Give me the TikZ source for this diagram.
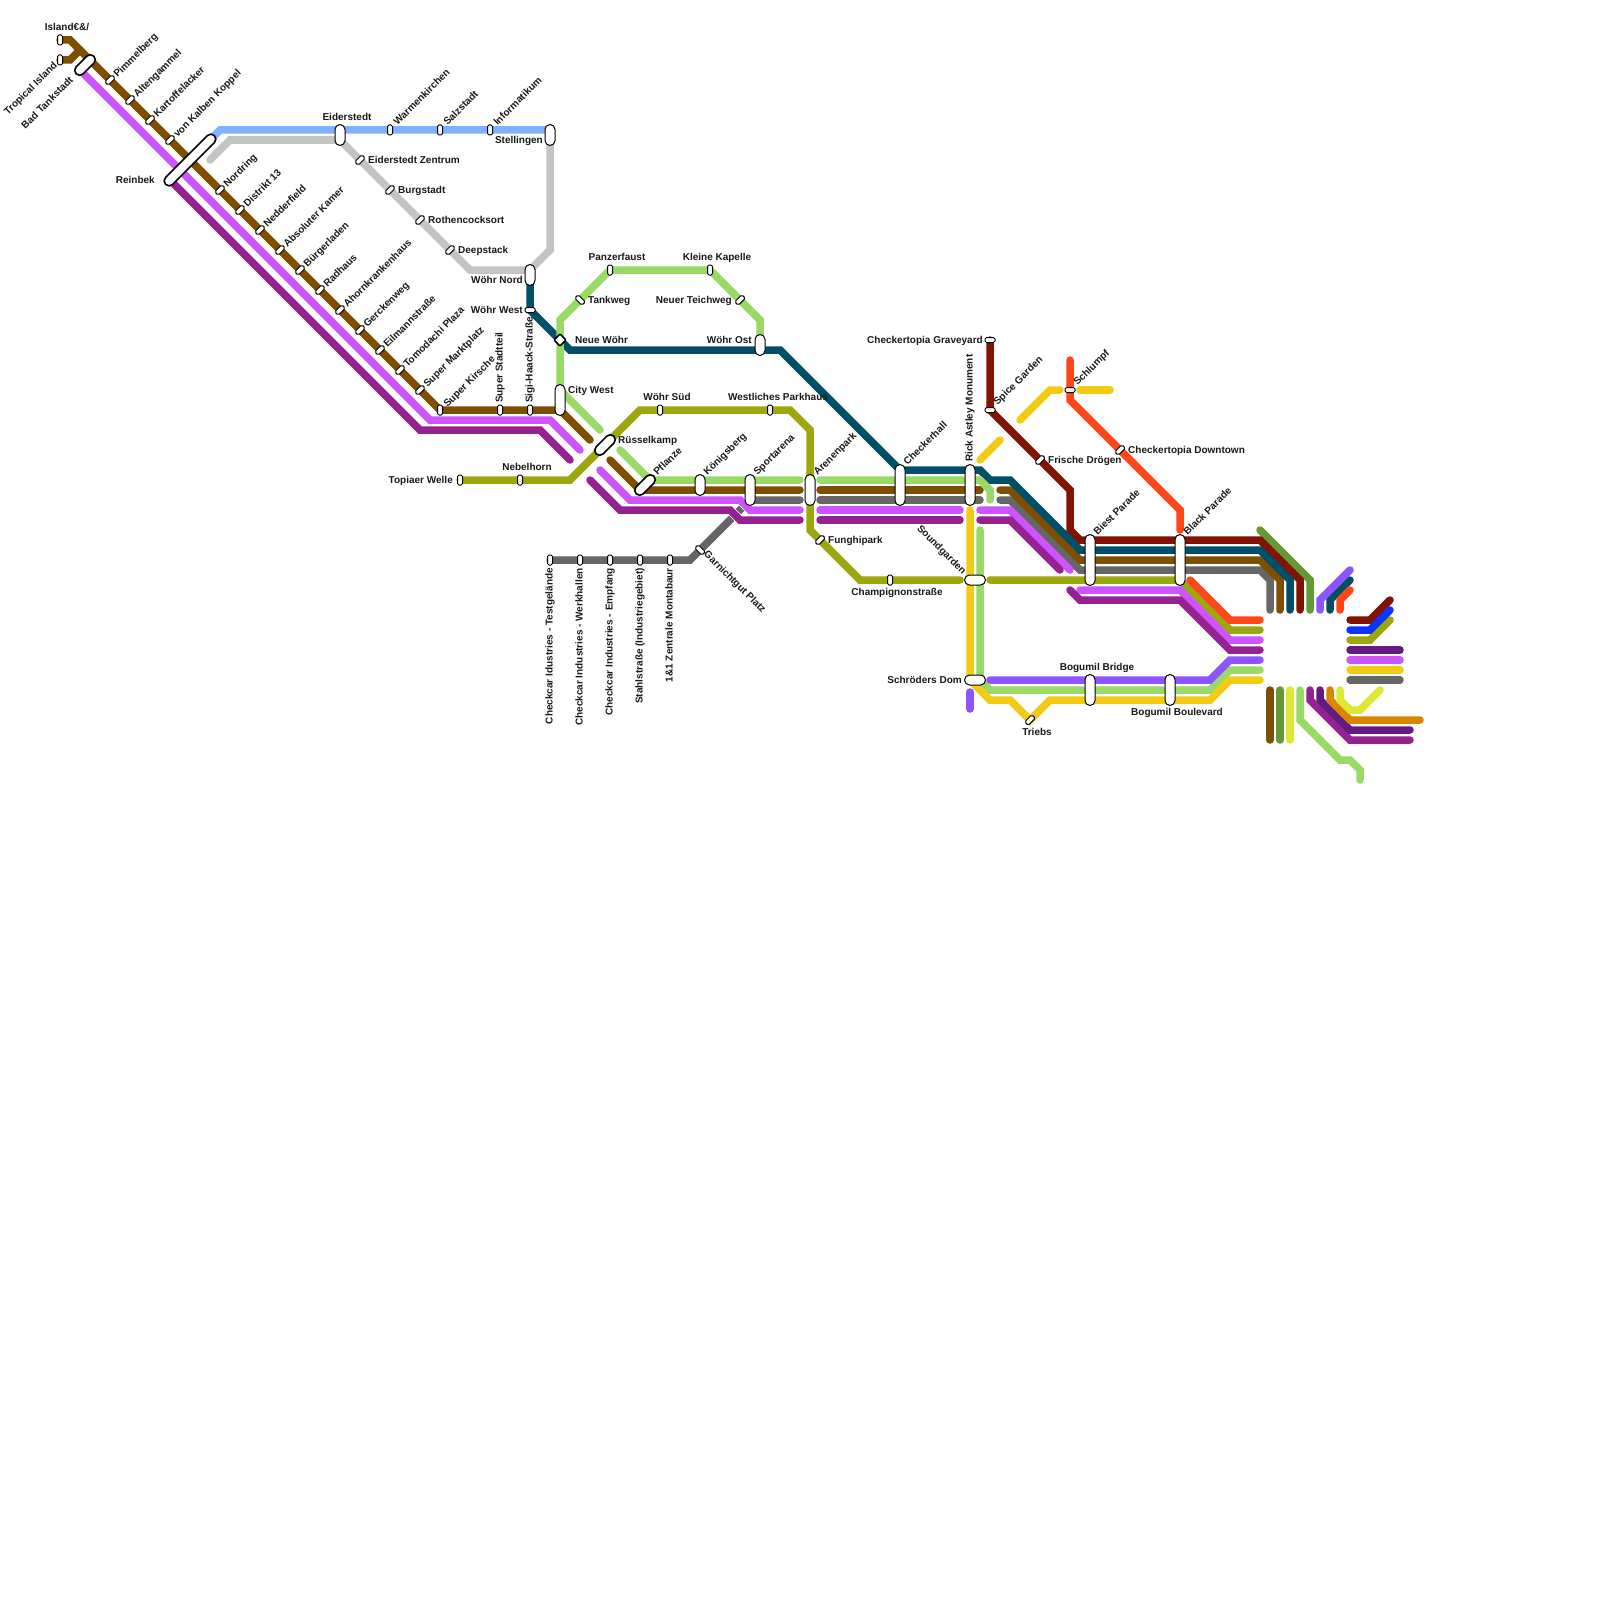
\documentclass[tikz,border=0pt]{standalone}
\usepackage{fontspec}
\setmainfont{Liberation Sans}
\definecolor{cbrown}{HTML}{7F4F00}
\definecolor{cblue}{HTML}{80B0FF}
\definecolor{clgrey}{HTML}{C4C4C4}
\definecolor{cteal}{HTML}{004F66}
\definecolor{clgreen}{HTML}{99D966}
\definecolor{colive}{HTML}{9CA60D}
\definecolor{cmag}{HTML}{CC55FF}
\definecolor{cpurp}{HTML}{962190}
\definecolor{cdgrey}{HTML}{666666}
\definecolor{cdred}{HTML}{801400}
\definecolor{cred}{HTML}{FF4619}
\definecolor{cyel}{HTML}{F2CC14}
\definecolor{cviol}{HTML}{8C55FF}
\definecolor{cdblue}{HTML}{0D33FF}
\definecolor{cdpurp}{HTML}{661A80}
\definecolor{corange}{HTML}{D98500}
\definecolor{cgreen}{HTML}{669933}
\definecolor{clime}{HTML}{DDE833}
\tikzset{
  ln/.style={line width=7.5pt,line cap=round,line join=miter,#1},
  halo/.style={line width=9pt,white},
  caps/.style={draw=black,fill=white,line width=1pt,rounded corners=5pt,minimum height=10pt,inner sep=0pt},
  capsb/.style={caps,line width=1.6pt},
  smallst/.style={draw=black,fill=white,line width=1pt,rounded corners=1.5pt,minimum width=10pt,minimum height=5pt,inner sep=0pt},
  lbl/.style={font=\bfseries\fontsize{10}{12}\selectfont,inner sep=0pt,text height=8.5pt,text depth=0.5pt,text=black!90},
  lblv/.style={font=\bfseries\fontsize{10}{12}\selectfont,inner sep=0pt,text height=7pt,text depth=2pt,text=black!90}
}
\newcommand{\mstn}[4]{\node[smallst,rotate=#4] (#1) at (#2,#3) {};}
\newcommand{\mcps}[5]{\node[caps,minimum width=#5pt,rotate=#4] (#1) at (#2,#3) {};}
\newcommand{\mcpb}[5]{\node[capsb,minimum width=#5pt,rotate=#4] (#1) at (#2,#3) {};}
\newcommand{\lba}[4]{\node[lbl,anchor=west,rotate=45,xshift=1pt] (#1) at (#2,#3) {#4};}
\newcommand{\lbw}[4]{\node[lbl,anchor=west] (#1) at (#2,#3) {#4};}
\newcommand{\lbe}[4]{\node[lbl,anchor=east] (#1) at (#2,#3) {#4};}
\newcommand{\lbc}[4]{\node[lbl,anchor=center] (#1) at (#2,#3) {#4};}
\newcommand{\lbv}[4]{\node[lblv,anchor=west,rotate=90] (#1) at (#2,#3) {#4};}
\newcommand{\lbd}[4]{\node[lblv,anchor=east,rotate=90] (#1) at (#2,#3) {#4};}
\begin{document}
\begin{tikzpicture}[x=1pt,y=-1pt]
\path[fill=white] (0,0) rectangle (1600,1600);
\useasboundingbox (0,0) rectangle (1600,1600);
% light grey
\draw[ln=clgrey] (210,160)--(230,140)--(340,140)--(470,270)--(530,270)--(550,250)--(550,135);
% light blue
\draw[ln=cblue] (210,140)--(220,130)--(550,130);
% dark grey
\draw[ln=cdgrey] (550,560)--(690,560)--(750,500)--(800,500);
\draw[ln=cdgrey] (820,500)--(980,500);
\draw[ln=cdgrey] (1000,500)--(1010,500)--(1080,570)--(1260,570)--(1270,580)--(1270,610);
% brown
\draw[ln=cbrown] (60,40)--(70,40)--(440,410)--(560,410)--(590,440);
\draw[ln=cbrown] (60,60)--(70,60)--(80,50);
\draw[ln=cbrown] (610,460)--(640,490)--(800,490);
\draw[ln=cbrown] (820,490)--(980,490);
\draw[ln=cbrown] (1000,490)--(1010,490)--(1080,560)--(1260,560)--(1280,580)--(1280,610);
\draw[ln=cbrown] (1270,690)--(1270,740);
% green far right
\draw[ln=cgreen] (1260,530)--(1310,580)--(1310,610);
\draw[ln=cgreen] (1280,690)--(1280,740);
% dark red
\draw[ln=cdred] (990,340)--(990,410)--(1070,490)--(1070,530)--(1080,540)--(1260,540)--(1300,580)--(1300,610);
\draw[ln=cdred] (1350,620)--(1370,620)--(1390,600);
% teal
\draw[ln=cteal] (530,280)--(530,310)--(570,350)--(780,350)--(900,470)--(980,470)--(990,480)--(1010,480)--(1080,550)--(1260,550)--(1290,580)--(1290,610);
\draw[ln=cteal] (1330,610)--(1330,600)--(1350,580);
% light green
\draw[ln=clgreen] (760,345)--(760,320)--(710,270)--(610,270)--(560,320)--(560,390)--(600,430);
\draw[ln=clgreen] (620,450)--(650,480)--(800,480);
\draw[ln=clgreen] (820,480)--(980,480)--(990,490)--(990,500);
\draw[ln=clgreen] (980,530)--(980,680)--(990,690)--(1210,690)--(1230,670)--(1260,670);
\draw[ln=clgreen] (1300,690)--(1300,720)--(1340,760)--(1350,760)--(1360,770)--(1360,780);
% olive
\draw[ln=colive] (460,480)--(570,480)--(640,410)--(790,410)--(810,430)--(810,530)--(860,580)--(960,580);
\draw[ln=colive] (990,580)--(1180,580)--(1230,630)--(1260,630);
\draw[ln=colive] (1350,640)--(1370,640)--(1390,620);
% magenta
\draw[ln=cmag] (80,70)--(430,420)--(550,420)--(580,450);
\draw[halo] (735,500)--(740,500)--(750,510)--(755,510);
\draw[ln=cmag] (600,470)--(630,500)--(740,500)--(750,510)--(800,510);
\draw[ln=cmag] (820,510)--(960,510);
\draw[ln=cmag] (980,510)--(1010,510)--(1070,570);
\draw[ln=cmag] (1080,590)--(1180,590)--(1230,640)--(1260,640);
\draw[ln=cmag] (1350,660)--(1400,660);
% purple
\draw[ln=cpurp] (170,180)--(420,430)--(540,430)--(570,460);
\draw[halo] (725,510)--(730,510)--(740,520)--(745,520);
\draw[ln=cpurp] (590,480)--(620,510)--(730,510)--(740,520)--(800,520);
\draw[ln=cpurp] (820,520)--(960,520);
\draw[ln=cpurp] (980,520)--(1010,520)--(1060,570);
\draw[ln=cpurp] (1070,590)--(1080,600)--(1180,600)--(1230,650)--(1260,650);
\draw[ln=cpurp] (1310,690)--(1310,700)--(1350,740)--(1410,740);
% yellow
\draw[ln=cyel] (970,510)--(970,680)--(990,700)--(1010,700)--(1030,720)--(1050,700)--(1210,700)--(1230,680)--(1260,680);
\draw[ln=cyel] (980,460)--(1000,440);
\draw[ln=cyel] (1020,420)--(1050,390)--(1060,390);
\draw[ln=cyel] (1080,390)--(1110,390);
\draw[ln=cyel] (1350,670)--(1400,670);
% red orange
\draw[ln=cred] (1070,360)--(1070,400)--(1180,510)--(1180,530);
\draw[ln=cred] (1190,580)--(1230,620)--(1260,620);
\draw[ln=cred] (1340,610)--(1340,600)--(1350,590);
% violet
\draw[ln=cviol] (990,680)--(1210,680)--(1230,660)--(1260,660);
\draw[ln=cviol] (970,692)--(970,709);
\draw[ln=cviol] (1320,610)--(1320,600)--(1350,570);
% other right block
\draw[ln=cdblue] (1350,630)--(1370,630)--(1390,610);
\draw[ln=cdpurp] (1350,650)--(1400,650);
\draw[ln=cdgrey] (1350,680)--(1400,680);
\draw[ln=clime] (1290,690)--(1290,740);
\draw[ln=cdpurp] (1320,690)--(1320,700)--(1350,730)--(1410,730);
\draw[ln=corange] (1330,690)--(1330,700)--(1350,720)--(1420,720);
\draw[ln=clime] (1340,690)--(1340,700)--(1350,710)--(1360,710)--(1380,690);
% stations
\mstn{sIsland}{60}{40}{90}\mstn{sTropical}{60}{60}{90}
\mcpb{sBad}{85}{65}{45}{25}
\foreach \n/\x in {a/110,b/130,c/150,d/170,e/220,f/240,g/260,h/280,i/300,j/320,k/340,l/360,m/380,n/400,o/420}{
  \pgfmathtruncatemacro{\yy}{\x-30}
  \node[smallst,rotate=45] (brown\n) at (\x,\yy) {};
}
\mcpb{sReinbek}{190}{160}{45}{69}
\mstn{sKirsche}{440}{410}{90}\mstn{sStadtteil}{500}{410}{90}\mstn{sSigi}{530}{410}{90}
\mcps{sEider}{340}{135}{90}{21}
\mstn{sWarm}{390}{130}{90}\mstn{sSalz}{440}{130}{90}\mstn{sInfo}{490}{130}{90}
\mcps{sStell}{550}{135}{90}{21}
\mstn{sEZ}{360}{160}{45}\mstn{sBurg}{390}{190}{45}\mstn{sRoth}{420}{220}{45}\mstn{sDeep}{450}{250}{45}
\mcps{sWN}{530}{275}{90}{21}
\mstn{sWW}{530}{310}{0}
\node[draw=black,fill=white,line width=1.5pt,rotate=45,minimum size=8.5pt,inner sep=0pt,rounded corners=1pt] (sNW) at (560,340) {};
\mstn{sTank}{580}{300}{-45}\mstn{sPanz}{610}{270}{90}\mstn{sKK}{710}{270}{90}\mstn{sNT}{740}{300}{45}
\mcps{sWO}{760}{345}{90}{21}
\mcps{sCW}{560}{400}{90}{31}
\mstn{sWS}{660}{410}{90}\mstn{sWP}{770}{410}{90}
\mcpb{sRuss}{605}{445}{45}{25}
\mstn{sNeb}{520}{480}{90}\mstn{sTop}{460}{480}{90}
\mcpb{sPfl}{645}{485}{45}{25}
\mcps{sKoe}{700}{485}{90}{21}
\mcps{sSport}{750}{490}{90}{31}
\mcps{sAren}{810}{490}{90}{31}
\mcps{sCheck}{900}{485}{90}{41}
\mcps{sRick}{970}{485}{90}{41}
\mstn{sSpice}{990}{410}{0}\mstn{sGrave}{990}{340}{0}\mstn{sFD}{1040}{460}{45}\mstn{sSchl}{1070}{390}{0}\mstn{sCD}{1120}{450}{45}
\mcps{sBiest}{1090}{560}{90}{51}
\mcps{sBlack}{1180}{560}{90}{51}
\mcps{sBB}{1090}{690}{90}{31}
\mcps{sBBo}{1170}{690}{90}{31}
\mstn{sTrieb}{1030}{720}{45}
\mcps{sSD}{975}{680}{0}{21}
\mcps{sSG}{975}{580}{0}{21}
\mstn{sCham}{890}{580}{90}\mstn{sFung}{820}{540}{45}\mstn{sGar}{700}{550}{-45}
\mstn{sG1}{550}{560}{90}\mstn{sG2}{580}{560}{90}\mstn{sG3}{610}{560}{90}\mstn{sG4}{640}{560}{90}\mstn{sG5}{670}{560}{90}
% labels
\lbc{tIsland}{67}{27}{Island€\&/}
\node[lbl,anchor=east,rotate=45] (tTropical) at (55,63) {Tropical Island};
\node[lbl,anchor=east,rotate=45] (tBad) at (71,78) {Bad Tankstadt};
\lba{t1}{114}{76}{Pimmelberg}\lba{t2}{134}{96}{Altengammel}\lba{t3}{154}{116}{Kartoffelacker}\lba{t4}{174}{136}{von Kalben Koppel}
\lba{t5}{224}{186}{Nordring}\lba{t6}{244}{206}{Distrikt 13}\lba{t7}{264}{226}{Nedderfield}\lba{t8}{284}{246}{Absoluter Kamer}
\lba{t9}{304}{266}{Bürgerladen}\lba{t10}{324}{286}{Radhaus}\lba{t11}{344}{306}{Ahornkrankenhaus}\lba{t12}{364}{326}{Gerckenweg}
\lba{t13}{384}{346}{Eilmannstraße}\lba{t14}{404}{366}{Tomodachi Plaza}\lba{t15}{424}{386}{Super Marktplatz}\lba{t16}{444}{406}{Super Kirsche}
\lbe{tReinbek}{155}{179}{Reinbek}
\lbc{tEider}{347}{117}{Eiderstedt}
\lba{tWarm}{394}{124}{Warmenkirchen}\lba{tSalz}{444}{124}{Salzstadt}\lba{tInfo}{494}{124}{Informatikum}
\lbe{tStell}{543}{139}{Stellingen}
\lbw{tEZ}{368}{159}{Eiderstedt Zentrum}\lbw{tBurg}{398}{189}{Burgstadt}\lbw{tRoth}{428}{219}{Rothencocksort}\lbw{tDeep}{458}{249}{Deepstack}
\lbe{tWN}{523}{279}{Wöhr Nord}\lbe{tWW}{523}{309}{Wöhr West}
\lbv{tStadt}{500}{403}{Super Stadtteil}\lbv{tSigi}{530}{403}{Sigi-Haack-Straße}
\lbw{tNW}{575}{339}{Neue Wöhr}\lbw{tTank}{588}{299}{Tankweg}
\lbc{tPanz}{617}{256}{Panzerfaust}\lbc{tKK}{717}{256}{Kleine Kapelle}
\lbe{tNT}{732}{299}{Neuer Teichweg}\lbe{tWO}{752}{339}{Wöhr Ost}
\lbw{tCW}{568}{389}{City West}\lbc{tWS}{667}{396}{Wöhr Süd}\lbc{tWP}{778}{396}{Westliches Parkhaus}
\lbw{tRuss}{618}{439}{Rüsselkamp}\lbc{tNeb}{527}{466}{Nebelhorn}\lbe{tTop}{453}{479}{Topiaer Welle}
\lba{tPfl}{654}{474}{Pflanze}\lba{tKoe}{704}{474}{Königsberg}\lba{tSport}{754}{474}{Sportarena}\lba{tAren}{814}{474}{Arenenpark}
\lba{tCheck}{904}{464}{Checkerhall}
\lbv{tRick}{970}{462}{Rick Astley Monument}
\lba{tSpice}{994}{404}{Spice Garden}\lbe{tGrave}{983}{339}{Checkertopia Graveyard}
\lbw{tFD}{1048}{459}{Frische Drögen}\lba{tSchl}{1074}{384}{Schlumpf}\lbw{tCD}{1128}{449}{Checkertopia Downtown}
\lba{tBiest}{1094}{534}{Biest Parade}\lba{tBlack}{1184}{534}{Black Parade}
\lbc{tBB}{1097}{666}{Bogumil Bridge}\lbc{tBBo}{1177}{711}{Bogumil Boulevard}\lbc{tTrieb}{1037}{731}{Triebs}
\lbe{tSD}{962}{679}{Schröders Dom}
\node[lblv,anchor=east,rotate=-45] (tSG) at (964,573) {Soundgarden};
\lbc{tCham}{897}{591}{Champignonstraße}\lbw{tFung}{828}{539}{Funghipark}
\node[lblv,anchor=west,rotate=-45] (tGar) at (705,553) {Garnichtgut Platz};
\lbd{tG1}{550}{568}{Checkcar Idustries - Testgelände}\lbd{tG2}{580}{568}{Checkcar Industries - Werkhallen}\lbd{tG3}{610}{568}{Checkcar Industries - Empfang}\lbd{tG4}{640}{568}{Stahlstraße (Industriegebiet)}\lbd{tG5}{670}{568}{1\&1 Zentrale Montabaur}
\end{tikzpicture}
\end{document}
